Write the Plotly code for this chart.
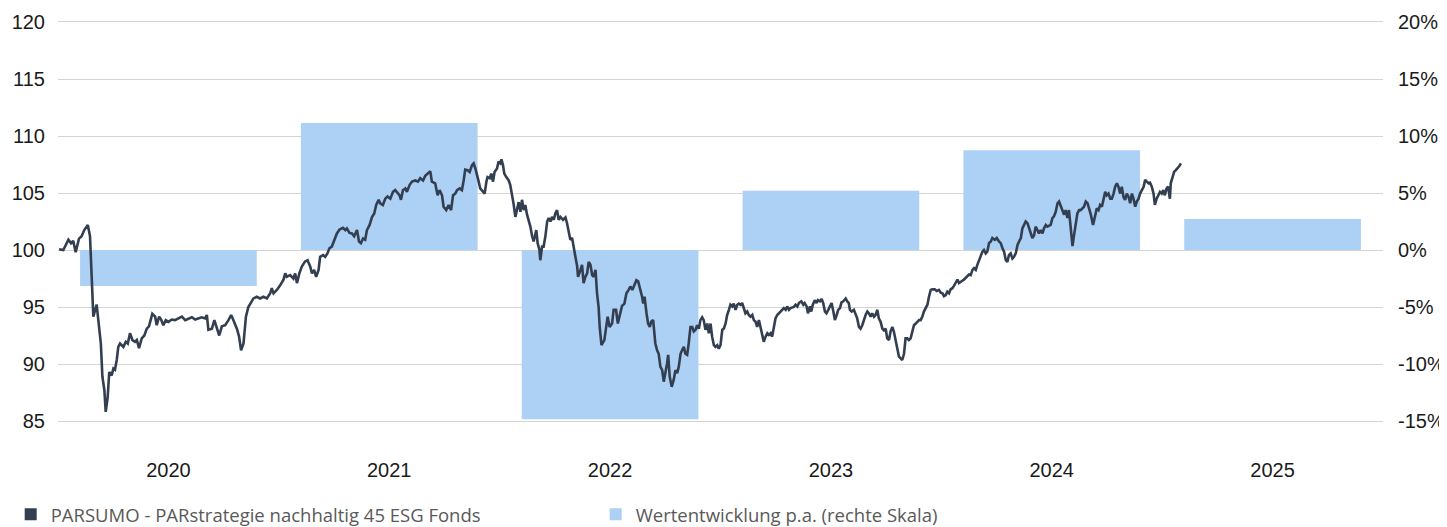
import plotly.graph_objects as go

# ---------------- data ----------------
years = [2020, 2021, 2022, 2023, 2024, 2025]
annual_return_pct = [-3.15, 11.15, -14.85, 5.2, 8.75, 2.72]

fund_name = "PARSUMO - PARstrategie nachhaltig 45 ESG Fonds"
bar_name = "Wertentwicklung p.a. (rechte Skala)"

# time in years since 1 Jan 2020, indexed value (start = 100)
line_t = [0.005, 0.024, 0.047, 0.059, 0.069, 0.080, 0.095, 0.107, 0.119, 0.135, 0.145, 0.153, 0.160, 0.175, 0.183, 0.194,
          0.201, 0.210, 0.216, 0.225, 0.232, 0.243, 0.251, 0.258, 0.266, 0.273, 0.281, 0.296, 0.307, 0.316, 0.326, 0.337,
          0.349, 0.357, 0.367, 0.379, 0.391, 0.402, 0.412, 0.421, 0.427, 0.440, 0.447, 0.458, 0.467, 0.477, 0.488, 0.500,
          0.515, 0.530, 0.545, 0.561, 0.576, 0.590, 0.606, 0.621, 0.636, 0.651, 0.666, 0.674, 0.681, 0.697, 0.708, 0.719,
          0.730, 0.742, 0.757, 0.772, 0.784, 0.794, 0.810, 0.820, 0.829, 0.840, 0.851, 0.862, 0.870, 0.885, 0.900, 0.915,
          0.930, 0.946, 0.961, 0.968, 0.976, 0.991, 1.006, 1.021, 1.029, 1.036, 1.051, 1.066, 1.074, 1.082, 1.093, 1.104,
          1.119, 1.130, 1.142, 1.150, 1.160, 1.169, 1.180, 1.187, 1.200, 1.210, 1.220, 1.229, 1.240, 1.251, 1.263, 1.275,
          1.290, 1.301, 1.308, 1.320, 1.331, 1.341, 1.354, 1.363, 1.372, 1.381, 1.391, 1.399, 1.411, 1.422, 1.432, 1.441,
          1.452, 1.459, 1.471, 1.482, 1.492, 1.505, 1.517, 1.527, 1.538, 1.547, 1.553, 1.562, 1.573, 1.580, 1.592, 1.603,
          1.618, 1.630, 1.640, 1.653, 1.663, 1.674, 1.686, 1.693, 1.708, 1.719, 1.728, 1.739, 1.746, 1.758, 1.769, 1.780,
          1.789, 1.799, 1.807, 1.819, 1.829, 1.837, 1.844, 1.855, 1.864, 1.875, 1.882, 1.890, 1.897, 1.905, 1.912, 1.923,
          1.932, 1.940, 1.945, 1.955, 1.962, 1.970, 1.977, 1.988, 1.995, 2.003, 2.008, 2.015, 2.021, 2.030, 2.041, 2.048,
          2.056, 2.063, 2.071, 2.079, 2.086, 2.094, 2.101, 2.109, 2.116, 2.124, 2.131, 2.139, 2.147, 2.154, 2.166, 2.172,
          2.180, 2.184, 2.192, 2.199, 2.207, 2.215, 2.222, 2.230, 2.237, 2.245, 2.252, 2.260, 2.267, 2.275, 2.287, 2.298,
          2.305, 2.313, 2.320, 2.328, 2.335, 2.343, 2.351, 2.355, 2.366, 2.373, 2.380, 2.388, 2.396, 2.403, 2.411, 2.419,
          2.426, 2.434, 2.441, 2.448, 2.453, 2.461, 2.474, 2.483, 2.489, 2.498, 2.509, 2.516, 2.527, 2.535, 2.544, 2.554,
          2.565, 2.574, 2.584, 2.592, 2.601, 2.610, 2.619, 2.627, 2.634, 2.645, 2.650, 2.656, 2.665, 2.672, 2.680, 2.686,
          2.695, 2.705, 2.713, 2.720, 2.728, 2.736, 2.743, 2.751, 2.758, 2.763, 2.770, 2.779, 2.788, 2.796, 2.804, 2.811,
          2.819, 2.826, 2.834, 2.841, 2.849, 2.856, 2.864, 2.872, 2.879, 2.887, 2.894, 2.902, 2.909, 2.917, 2.924, 2.932,
          2.940, 2.947, 2.955, 2.962, 2.970, 2.977, 2.985, 2.992, 3.000, 3.008, 3.015, 3.023, 3.030, 3.038, 3.045, 3.053,
          3.060, 3.068, 3.076, 3.083, 3.091, 3.098, 3.106, 3.113, 3.121, 3.128, 3.136, 3.144, 3.151, 3.159, 3.166, 3.174,
          3.181, 3.189, 3.196, 3.204, 3.212, 3.219, 3.227, 3.234, 3.242, 3.249, 3.257, 3.264, 3.272, 3.287, 3.295, 3.302,
          3.310, 3.317, 3.332, 3.340, 3.348, 3.355, 3.366, 3.375, 3.381, 3.390, 3.396, 3.405, 3.411, 3.418, 3.427, 3.435,
          3.441, 3.450, 3.458, 3.465, 3.473, 3.480, 3.488, 3.495, 3.503, 3.511, 3.518, 3.526, 3.533, 3.541, 3.548, 3.556,
          3.567, 3.574, 3.581, 3.586, 3.594, 3.604, 3.612, 3.619, 3.627, 3.634, 3.642, 3.649, 3.657, 3.665, 3.672, 3.680,
          3.687, 3.695, 3.702, 3.710, 3.717, 3.725, 3.733, 3.740, 3.748, 3.755, 3.763, 3.770, 3.778, 3.785, 3.793, 3.801,
          3.808, 3.816, 3.823, 3.831, 3.838, 3.846, 3.853, 3.861, 3.869, 3.876, 3.884, 3.891, 3.899, 3.906, 3.914, 3.921,
          3.929, 3.937, 3.944, 3.952, 3.959, 3.970, 3.979, 3.989, 3.997, 4.005, 4.012, 4.020, 4.027, 4.035, 4.042, 4.050,
          4.057, 4.065, 4.073, 4.080, 4.088, 4.095, 4.102, 4.110, 4.118, 4.125, 4.133, 4.141, 4.148, 4.156, 4.163, 4.171,
          4.178, 4.186, 4.193, 4.201, 4.208, 4.216, 4.224, 4.231, 4.242, 4.251, 4.261, 4.269, 4.277, 4.284, 4.292, 4.299,
          4.306, 4.314, 4.322, 4.329, 4.337, 4.345, 4.352, 4.360, 4.367, 4.374, 4.382, 4.390, 4.397, 4.405, 4.412, 4.420,
          4.427, 4.435, 4.442, 4.450, 4.458, 4.465, 4.473, 4.480, 4.488, 4.495, 4.503, 4.510, 4.518, 4.526, 4.533, 4.541,
          4.548, 4.556, 4.563, 4.571, 4.578, 4.586, 4.594, 4.601, 4.609, 4.616, 4.624, 4.631, 4.646, 4.654, 4.662, 4.669,
          4.677, 4.687, 4.695, 4.704, 4.712, 4.719, 4.727, 4.734, 4.742, 4.749, 4.757, 4.765, 4.772, 4.780, 4.787, 4.795,
          4.802, 4.810, 4.817, 4.825, 4.832, 4.840, 4.848, 4.855, 4.863, 4.870, 4.878, 4.885, 4.893, 4.900, 4.908, 4.916,
          4.923, 4.931, 4.938, 4.945, 4.953, 4.961, 4.967, 4.975, 4.982, 4.990, 4.998, 5.005, 5.012, 5.020, 5.027, 5.035,
          5.039, 5.047, 5.054, 5.062, 5.070, 5.077, 5.085]

line_v = [100.06, 100.0, 100.9, 100.6, 100.8, 99.8, 101.0, 101.2, 101.75, 102.2, 101.2, 97.7, 94.15, 95.2, 93.9, 91.8,
          88.9, 87.7, 85.8, 87.1, 89.3, 89.0, 89.6, 89.5, 90.35, 91.5, 91.8, 91.5, 91.95, 91.8, 92.7, 92.1,
          91.95, 92.1, 91.4, 92.25, 92.5, 93.1, 93.3, 93.85, 94.4, 94.15, 93.4, 94.15, 93.9, 93.4, 93.85, 93.7,
          93.9, 93.85, 94.0, 94.15, 93.85, 94.0, 94.1, 93.9, 94.0, 94.1, 94.0, 94.3, 93.0, 93.1, 93.85, 93.1,
          92.5, 93.3, 93.4, 93.85, 94.3, 93.85, 93.1, 92.4, 91.2, 91.8, 94.15, 95.0, 95.3, 95.75, 95.9, 95.75,
          95.9, 95.75, 96.2, 96.65, 96.2, 96.5, 96.9, 97.4, 97.95, 97.65, 97.8, 97.5, 97.95, 97.1, 97.95, 98.55,
          99.0, 99.1, 98.55, 97.95, 98.25, 97.65, 98.25, 99.4, 99.55, 99.4, 99.7, 100.15, 100.3, 100.9, 101.45, 101.8,
          101.95, 101.75, 101.9, 101.5, 101.45, 101.2, 101.75, 100.75, 100.6, 101.0, 100.9, 101.75, 102.2, 102.9, 103.2, 103.95,
          104.4, 104.1, 103.95, 104.5, 104.7, 104.5, 105.1, 105.25, 105.0, 104.8, 104.4, 105.25, 105.4, 105.1, 105.7, 106.0,
          106.1, 106.0, 106.3, 106.1, 106.5, 106.7, 106.9, 106.0, 105.85, 104.8, 105.25, 104.8, 103.8, 103.5, 103.95, 103.5,
          104.8, 104.95, 105.25, 105.4, 105.25, 106.1, 107.05, 107.0, 106.85, 107.45, 107.6, 107.15, 106.7, 106.0, 105.4, 105.1,
          104.95, 106.0, 106.4, 106.3, 106.7, 106.0, 106.85, 107.15, 107.75, 107.6, 107.95, 107.45, 106.7, 106.4, 106.1, 105.7,
          104.95, 104.05, 102.9, 103.5, 104.2, 103.35, 104.4, 103.5, 103.95, 103.1, 102.65, 102.05, 101.2, 100.75, 101.75, 100.6,
          100.0, 99.1, 100.3, 100.3, 101.2, 102.5, 102.8, 102.5, 102.9, 102.65, 103.2, 103.5, 102.65, 102.9, 102.65, 102.85,
          102.35, 101.45, 100.9, 101.05, 100.15, 99.4, 98.55, 97.65, 98.25, 98.7, 97.1, 97.65, 97.95, 98.95, 98.7, 97.8,
          97.65, 98.25, 96.2, 95.0, 93.25, 91.65, 92.1, 93.4, 94.15, 93.25, 93.55, 94.75, 94.75, 93.55, 94.3, 95.1,
          95.3, 96.2, 96.5, 96.8, 96.5, 96.95, 97.35, 97.25, 96.8, 95.9, 95.3, 95.9, 94.45, 93.55, 93.25, 93.7,
          93.85, 91.8, 91.2, 90.9, 89.75, 89.45, 88.45, 89.2, 90.05, 90.8, 88.9, 88.0, 88.6, 89.45, 89.2, 89.75,
          90.9, 91.2, 91.5, 90.9, 90.8, 91.8, 93.25, 93.25, 92.85, 93.0, 93.4, 93.1, 93.85, 94.1, 93.85, 93.0,
          93.55, 92.7, 93.55, 92.4, 91.65, 91.5, 91.65, 91.35, 91.65, 93.0, 93.1, 93.55, 94.3, 94.75, 95.2, 95.05,
          95.3, 94.75, 95.2, 95.3, 95.2, 95.35, 94.75, 94.45, 94.6, 94.3, 94.15, 94.3, 93.85, 93.7, 93.25, 93.85,
          93.25, 92.4, 91.95, 92.4, 92.7, 92.55, 92.7, 92.4, 93.25, 94.0, 94.3, 94.45, 94.6, 94.9, 94.75, 95.05,
          94.75, 94.9, 95.0, 95.2, 95.05, 95.35, 95.5, 95.2, 95.35, 95.05, 94.45, 95.05, 94.6, 95.2, 95.6, 95.35,
          95.6, 95.5, 95.7, 95.35, 94.6, 94.45, 94.75, 95.05, 95.35, 94.6, 93.85, 94.3, 94.75, 94.9, 95.4, 95.5,
          95.75, 95.5, 95.35, 94.75, 94.6, 94.75, 94.3, 94.0, 93.25, 93.1, 93.4, 93.85, 94.3, 94.6, 94.45, 94.15,
          94.45, 94.15, 94.3, 94.75, 94.0, 93.7, 93.1, 92.95, 93.1, 92.25, 92.1, 92.85, 93.25, 92.85, 92.1, 91.1,
          90.65, 90.5, 90.35, 90.9, 92.25, 92.25, 92.1, 92.25, 92.95, 93.4, 93.55, 93.7, 93.85, 93.85, 94.15, 94.6,
          94.9, 95.2, 95.9, 96.5, 96.55, 96.55, 96.4, 96.5, 96.25, 96.2, 95.95, 96.05, 96.35, 96.2, 96.55, 96.65,
          96.85, 97.1, 97.4, 97.1, 97.25, 97.3, 97.4, 97.55, 97.75, 97.85, 97.8, 98.25, 98.4, 98.25, 98.7, 99.1,
          99.55, 99.85, 100.0, 99.7, 99.85, 100.6, 100.75, 101.05, 100.9, 101.05, 100.75, 100.6, 100.15, 99.85, 99.1, 98.95,
          99.55, 99.7, 99.25, 99.4, 99.7, 100.45, 100.75, 101.05, 101.9, 102.2, 102.5, 102.35, 101.9, 101.3, 101.05, 101.3,
          102.05, 101.75, 101.45, 101.75, 101.45, 101.9, 102.2, 102.05, 102.1, 102.2, 102.8, 102.95, 103.35, 104.1, 104.25, 103.8,
          103.5, 103.1, 103.5, 102.8, 103.5, 102.05, 100.35, 101.3, 102.35, 103.2, 103.5, 103.5, 103.8, 104.25, 104.1, 103.65,
          103.1, 102.2, 102.8, 103.65, 103.5, 103.95, 103.8, 104.5, 105.1, 104.8, 104.95, 104.5, 104.5, 104.95, 105.55, 105.85,
          105.55, 104.95, 105.55, 104.65, 104.4, 104.95, 104.65, 104.1, 104.95, 104.5, 103.8, 104.25, 104.5, 104.95, 105.25, 105.55,
          106.15, 106.0, 105.85, 105.9, 105.55, 104.95, 103.95, 104.5, 104.8, 105.1, 104.95, 105.25, 104.8, 105.4, 105.55, 104.5,
          105.85, 106.3, 106.85, 107.0, 107.15, 107.35, 107.6]

left_ticks = [85, 90, 95, 100, 105, 110, 115, 120]
right_ticks = [-15, -10, -5, 0, 5, 10, 15, 20]

LINE_COLOR = "#333F50"
BAR_COLOR = "#ADD0F5"
GRID_COLOR = "#D4D4D4"
TICK_FONT = dict(family="Liberation Sans, Arial, sans-serif", size=20, color="#1A1A1A")

fig = go.Figure()

# annual return bars (primary y axis, shown on the right)
fig.add_trace(go.Bar(
    x=[y + 0.5 for y in years], y=annual_return_pct, width=0.8,
    marker=dict(color=BAR_COLOR, line=dict(width=0)),
    name=bar_name, yaxis="y", showlegend=False, hoverinfo="skip"))

# fund line (secondary y axis, overlaying, shown on the left -> drawn above the bars)
fig.add_trace(go.Scatter(
    x=[2020 + t for t in line_t], y=line_v, mode="lines",
    line=dict(color=LINE_COLOR, width=2.6),
    name=fund_name, yaxis="y2", showlegend=False))

# legend entries (square symbols, as in the reference)
for nm, col in [(fund_name, LINE_COLOR), (bar_name, BAR_COLOR)]:
    fig.add_trace(go.Scatter(x=[None], y=[None], mode="markers", name=nm, yaxis="y", showlegend=True,
                             marker=dict(symbol="square", size=12, color=col, line=dict(width=0))))

# the page body adds an 8 px offset, so the figure is 8 px smaller than the window
fig.update_layout(
    width=1439, height=519,
    margin=dict(l=50, r=64, t=14, b=106, autoexpand=False),
    paper_bgcolor="white", plot_bgcolor="white",
    barmode="overlay",
    xaxis=dict(range=[2020, 2026], tickvals=[y + 0.5 for y in years], ticktext=[str(y) for y in years],
               showgrid=False, zeroline=False, showline=True, mirror=True, linecolor=GRID_COLOR, linewidth=1,
               ticks="", tickfont=TICK_FONT, ticklabelstandoff=31, fixedrange=True, automargin=False),
    yaxis=dict(side="right", range=[-15, 20], tickvals=right_ticks, ticktext=[f"{v}%" for v in right_ticks],
               showgrid=True, gridcolor=GRID_COLOR, gridwidth=1, zeroline=False, showline=False, ticks="",
               tickfont=TICK_FONT, ticklabelstandoff=14, automargin=False),
    yaxis2=dict(side="left", overlaying="y", range=[85, 120], tickvals=left_ticks,
                showgrid=False, zeroline=False, showline=False, ticks="", tickfont=TICK_FONT,
                ticklabelstandoff=12, automargin=False),
    legend=dict(orientation="h", x=-0.0357, xanchor="left", y=-0.235, yanchor="middle",
                font=dict(family="Open Sans, sans-serif", size=18.5, color="#595959"),
                entrywidth=540, entrywidthmode="pixels", itemclick=False, itemdoubleclick=False,
                bgcolor="rgba(0,0,0,0)"),
)

fig.write_html("out.html")
